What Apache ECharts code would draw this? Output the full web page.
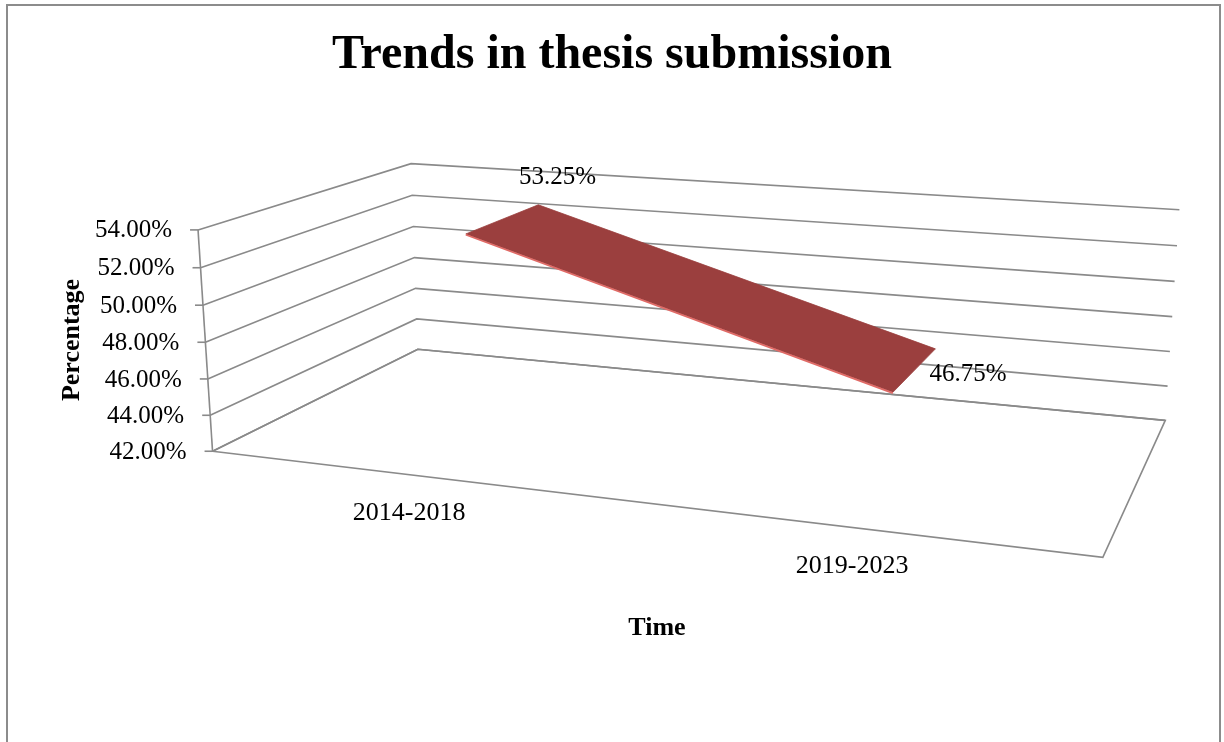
<!DOCTYPE html>
<html lang="en">
<head>
    <meta charset="UTF-8">
    <title>Trends in thesis submission</title>
    <script src="https://cdn.jsdelivr.net/npm/echarts/dist/echarts.min.js"></script>
    <style>
        * { padding: 0; margin: 0; }
        body { background: #fff; }
        #main { width: 1224px; height: 742px; }
    </style>
</head>
<body>
    <div id="main"></div>
    <script>
        // chart data
        var categories = ['2014-2018', '2019-2023'];
        var shares = [53.25, 46.75];
        var yTicks = [42, 44, 46, 48, 50, 52, 54];
        var yMin = 42, yMax = 54, yStep = 2;

        // look
        var serif = '"Liberation Serif", "Times New Roman", serif';
        var gridColor = '#8a8a8a';
        var ribbonColor = '#9b3f3e';
        var ribbonEdge = '#e06a66';
        var ribbonDepth = [0.31, 0.71];            // front / back of the ribbon, 0 = front, 1 = back wall
        var labelOffsets = [[54, -41], [53, 5]];   // data label shift from ribbon centre

        // camera rig: box corners (u, v, w) -> screen pixel, used to fit a perspective view
        var viewRig = [
            [0, 1, 0, 199, 230], [0, 5 / 6, 0, 200, 267.3], [0, 4 / 6, 0, 201.7, 305], [0, 3 / 6, 0, 205.3, 342.3],
            [0, 2 / 6, 0, 208.3, 379], [0, 1 / 6, 0, 210, 415], [0, 0, 0, 213.3, 451.7],
            [0, 1, 1, 412.3, 164], [0, 5 / 6, 1, 411.7, 195], [0, 4 / 6, 1, 413, 226.7], [0, 3 / 6, 1, 414, 257.7],
            [0, 2 / 6, 1, 415, 287.7], [0, 1 / 6, 1, 416.7, 319.3], [0, 0, 1, 418.3, 349.3],
            [1, 1, 1, 1179.3, 210], [1, 5 / 6, 1, 1176.7, 246], [1, 4 / 6, 1, 1174.7, 281], [1, 3 / 6, 1, 1172.7, 316.7],
            [1, 2 / 6, 1, 1170, 351.7], [1, 1 / 6, 1, 1167.7, 386], [1, 0, 1, 1165, 420],
            [1, 0, 0, 1102.7, 557.7]
        ];

        function solveLinear(M, r) {
            var n = r.length;
            for (var c = 0; c < n; c++) {
                var piv = c;
                for (var k = c + 1; k < n; k++) if (Math.abs(M[k][c]) > Math.abs(M[piv][c])) piv = k;
                var t = M[c]; M[c] = M[piv]; M[piv] = t;
                var tr = r[c]; r[c] = r[piv]; r[piv] = tr;
                for (var k2 = c + 1; k2 < n; k2++) {
                    var f = M[k2][c] / M[c][c];
                    for (var j = c; j < n; j++) M[k2][j] -= f * M[c][j];
                    r[k2] -= f * r[c];
                }
            }
            var x = [];
            for (var i = n - 1; i >= 0; i--) {
                var s = r[i];
                for (var j2 = i + 1; j2 < n; j2++) s -= M[i][j2] * x[j2];
                x[i] = s / M[i][i];
            }
            return x;
        }

        // least squares fit of a 3x4 projection (p34 = 1)
        function fitCamera(pts) {
            var N = [], rhs = [];
            for (var i = 0; i < 11; i++) { N.push(new Array(11).fill(0)); rhs.push(0); }
            function add(row, b) {
                for (var i = 0; i < 11; i++) {
                    rhs[i] += row[i] * b;
                    for (var j = 0; j < 11; j++) N[i][j] += row[i] * row[j];
                }
            }
            pts.forEach(function (p) {
                var u = p[0], v = p[1], w = p[2], x = p[3], y = p[4];
                add([u, v, w, 1, 0, 0, 0, 0, -x * u, -x * v, -x * w], x);
                add([0, 0, 0, 0, u, v, w, 1, -y * u, -y * v, -y * w], y);
            });
            return solveLinear(N, rhs);
        }

        var P = fitCamera(viewRig);
        function proj(u, v, w) {
            var d = P[8] * u + P[9] * v + P[10] * w + 1;
            return [(P[0] * u + P[1] * v + P[2] * w + P[3]) / d, (P[4] * u + P[5] * v + P[6] * w + P[7]) / d];
        }

        // value -> unit box position through the (hidden) cartesian axes
        function toUV(params, api, cat, val) {
            var cs = params.coordSys;
            var p = api.coord([cat, val]);
            return [(p[0] - cs.x) / cs.width, (cs.y + cs.height - p[1]) / cs.height];
        }

        function textEl(x, y, text, size, align, extra) {
            var el = {
                type: 'text', x: x, y: y,
                style: {
                    text: text, fill: '#000', fontSize: size, fontFamily: serif,
                    textAlign: align || 'center', textVerticalAlign: 'middle'
                }
            };
            if (extra) Object.assign(el.style, extra);
            return el;
        }

        var myChart = echarts.init(document.getElementById('main'));

        var option = {
            animation: false,
            backgroundColor: '#fff',
            title: {
                text: 'Trends in thesis submission',
                left: 'center',
                top: 27,
                textStyle: { fontFamily: serif, fontSize: 48, fontWeight: 'bold', color: '#000' }
            },
            grid: { left: 0, right: 0, top: 0, bottom: 0 },
            xAxis: { type: 'category', data: categories, show: false },
            yAxis: { type: 'value', min: yMin, max: yMax, interval: yStep, show: false },
            graphic: [
                {
                    type: 'rect', shape: { x: 7, y: 5, width: 1213, height: 800 },
                    style: { fill: null, stroke: '#8c8c8c', lineWidth: 2 }, silent: true
                },
                {
                    type: 'text', x: 72, y: 340, rotation: Math.PI / 2,
                    style: {
                        text: 'Percentage', fontFamily: serif, fontSize: 26, fontWeight: 'bold', fill: '#000',
                        textAlign: 'center', textVerticalAlign: 'middle'
                    }
                },
                {
                    type: 'text', x: 657, y: 628,
                    style: {
                        text: 'Time', fontFamily: serif, fontSize: 26, fontWeight: 'bold', fill: '#000',
                        textAlign: 'center', textVerticalAlign: 'middle'
                    }
                }
            ],
            series: [
                {
                    // floor and front axis line
                    type: 'custom',
                    z: 1,
                    silent: true,
                    data: [[0, yMin]],
                    renderItem: function (params, api) {
                        var v0 = toUV(params, api, 0, yMin)[1];
                        var v1 = toUV(params, api, 0, yMax)[1];
                        return {
                            type: 'group',
                            children: [
                                {
                                    type: 'polygon',
                                    shape: { points: [proj(0, v0, 0), proj(1, v0, 0), proj(1, v0, 1), proj(0, v0, 1)] },
                                    style: { fill: '#fff', stroke: gridColor, lineWidth: 1.6 }
                                },
                                {
                                    type: 'polyline',
                                    shape: { points: [proj(0, v0, 0), proj(0, v1, 0)] },
                                    style: { fill: null, stroke: gridColor, lineWidth: 1.6 }
                                }
                            ]
                        };
                    }
                },
                {
                    // gridlines on the side and back walls, ticks and tick labels
                    type: 'custom',
                    z: 2,
                    silent: true,
                    data: yTicks.map(function (t) { return [0, t]; }),
                    renderItem: function (params, api) {
                        var val = api.value(1);
                        var v = toUV(params, api, 0, val)[1];
                        var a = proj(0, v, 0), b = proj(0, v, 1), c = proj(1, v, 1);
                        return {
                            type: 'group',
                            children: [
                                {
                                    type: 'polyline', shape: { points: [a, b, c] },
                                    style: { fill: null, stroke: gridColor, lineWidth: 1.6 }
                                },
                                {
                                    type: 'line', shape: { x1: a[0] - 8, y1: a[1], x2: a[0], y2: a[1] },
                                    style: { stroke: gridColor, lineWidth: 1.6 }
                                },
                                textEl(a[0] - 26, a[1] + 1, val.toFixed(2) + '%', 25, 'right')
                            ]
                        };
                    }
                },
                {
                    // category labels in front of the floor
                    type: 'custom',
                    z: 3,
                    silent: true,
                    data: categories.map(function (c, i) { return [i, yMin]; }),
                    renderItem: function (params, api) {
                        var uv = toUV(params, api, api.value(0), api.value(1));
                        var p = proj(uv[0], uv[1], 0);
                        return textEl(p[0], p[1] + 38.5, categories[params.dataIndex], 26, 'center');
                    }
                },
                {
                    // the 3-D ribbon line
                    type: 'custom',
                    z: 4,
                    silent: true,
                    data: shares.map(function (s, i) { return [i, s]; }),
                    renderItem: function (params, api) {
                        var i = params.dataIndex;
                        var cur = toUV(params, api, api.value(0), api.value(1));
                        var kids = [];
                        if (i < shares.length - 1) {
                            var nxt = toUV(params, api, i + 1, shares[i + 1]);
                            var f0 = proj(cur[0], cur[1], ribbonDepth[0]);
                            var b0 = proj(cur[0], cur[1], ribbonDepth[1]);
                            var f1 = proj(nxt[0], nxt[1], ribbonDepth[0]);
                            var b1 = proj(nxt[0], nxt[1], ribbonDepth[1]);
                            kids.push({
                                type: 'polygon', shape: { points: [f0, b0, b1, f1] },
                                style: { fill: ribbonColor, stroke: ribbonColor, lineWidth: 0.8 }
                            });
                            kids.push({
                                type: 'line', shape: { x1: f0[0], y1: f0[1] + 0.8, x2: f1[0], y2: f1[1] + 0.8 },
                                style: { stroke: ribbonEdge, lineWidth: 1.8 }
                            });
                        }
                        var m = proj(cur[0], cur[1], (ribbonDepth[0] + ribbonDepth[1]) / 2);
                        var off = labelOffsets[i];
                        kids.push(textEl(m[0] + off[0], m[1] + off[1], shares[i].toFixed(2) + '%', 25, 'center'));
                        return { type: 'group', children: kids };
                    }
                }
            ]
        };

        myChart.setOption(option);
    </script>
</body>
</html>
